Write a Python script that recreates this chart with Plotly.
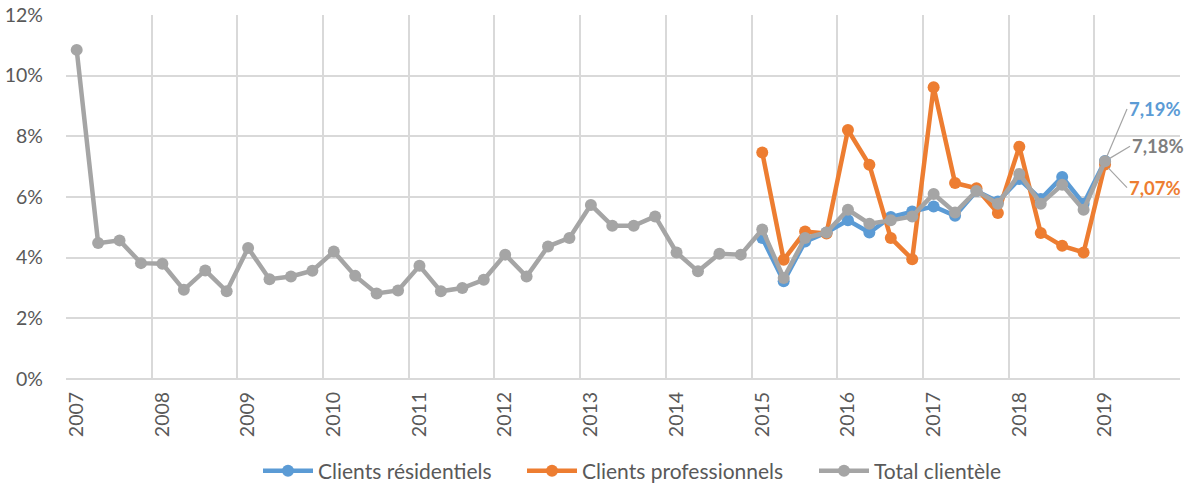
import plotly.graph_objects as go

years = ["2007", "2008", "2009", "2010", "2011", "2012", "2013",
         "2014", "2015", "2016", "2017", "2018", "2019"]

total = [10.85, 4.48, 4.57, 3.82, 3.80, 2.94, 3.58, 2.89, 4.32, 3.29, 3.38, 3.57,
         4.20, 3.40, 2.82, 2.92, 3.73, 2.89, 3.00, 3.27, 4.10, 3.38, 4.37, 4.65,
         5.74, 5.05, 5.05, 5.36, 4.17, 3.55, 4.13, 4.10, 4.93, 3.33, 4.65, 4.83,
         5.58, 5.12, 5.23, 5.36, 6.10, 5.49, 6.20, 5.78, 6.76, 5.78, 6.40, 5.58, 7.18]
residentiels = [4.65, 3.22, 4.53, 4.83, 5.23, 4.83, 5.34, 5.52, 5.69, 5.38, 6.20,
                5.85, 6.59, 5.93, 6.66, 5.78, 7.19]
professionnels = [7.47, 3.93, 4.86, 4.80, 8.21, 7.06, 4.65, 3.95, 9.62, 6.46, 6.29,
                  5.47, 7.66, 4.81, 4.39, 4.17, 7.07]

n_total = len(total)
x_total = list(range(n_total))
start_seg = n_total - len(residentiels)
x_seg = list(range(start_seg, n_total))
n_slots = 4 * len(years)  # quarterly slots on the axis (2019 year fully spanned)

BLUE = "#5B9BD5"
ORANGE = "#ED7D31"
GRAY = "#A5A5A5"
FONT = "Lato, 'Open Sans', sans-serif"
TXT = "#595959"
GRID = "#D9D9D9"
W, H = 1187, 485

def pct(v):
    return [a / 100 for a in v]

fig = go.Figure()
series = [
    ("Clients résidentiels", x_seg, residentiels, BLUE, "legend", 258),
    ("Clients professionnels", x_seg, professionnels, ORANGE, "legend2", 522),
    ("Total clientèle", x_total, total, GRAY, "legend3", 814),
]
for name, xs, ys, col, lg, _ in series:
    fig.add_trace(go.Scatter(
        x=xs, y=pct(ys), name=name, mode="lines+markers",
        line=dict(color=col, width=4.5),
        marker=dict(color=col, size=12),
        legend=lg,
    ))

label_cols = {"Clients résidentiels": BLUE, "Clients professionnels": ORANGE,
              "Total clientèle": "#7F7F7F"}
offsets = {"Clients résidentiels": (22, -52), "Total clientèle": (25, -15),
           "Clients professionnels": (22, 23)}
for name, xs, ys, col, _, _ in series:
    ax, ay = offsets[name]
    fig.add_annotation(
        x=xs[-1], y=ys[-1] / 100, xref="x", yref="y",
        text=f"{ys[-1]:.2f}".replace(".", ",") + "%",
        xanchor="left", yanchor="middle",
        showarrow=True, arrowhead=0, arrowwidth=1.2, arrowcolor="#A5A5A5",
        ax=ax, ay=ay, standoff=5,
        font=dict(family=FONT, size=18.5, color=label_cols[name], weight="bold"),
    )

legends = {}
for name, xs, ys, col, lg, px in series:
    legends[lg] = dict(orientation="h", x=px / W, xanchor="left",
                       xref="container", yref="container",
                       y=(H - 471) / H, yanchor="middle",
                       font=dict(size=21, color=TXT), itemwidth=50,
                       bgcolor="rgba(0,0,0,0)")

rng = [-0.5, n_slots - 0.5]
fig.update_layout(
    width=W, height=H,
    margin=dict(l=66, r=7, t=15, b=106, autoexpand=False),
    plot_bgcolor="white", paper_bgcolor="white",
    font=dict(family=FONT, color=TXT),
    showlegend=True,
    xaxis=dict(range=rng, tickmode="array",
               tickvals=[4 * i for i in range(len(years))], ticktext=years,
               tickangle=-90, showgrid=False, zeroline=False, showline=False,
               ticks="", ticklabelstandoff=8, automargin=False,
               tickfont=dict(size=19.5, color=TXT),
               minor=dict(tick0=-0.5, dtick=4, showgrid=True,
                          gridcolor=GRID, gridwidth=1.5, ticks="")),
    yaxis=dict(range=[0, 0.12], dtick=0.02, tickformat=".0%",
               showgrid=True, gridcolor=GRID, gridwidth=1.5,
               zeroline=True, zerolinecolor=GRID, zerolinewidth=1.5,
               ticks="", ticklabelstandoff=22, automargin=False,
               tickfont=dict(size=19.5, color=TXT)),
    **legends,
)

fig.write_html(
    "out.html",
    config={"displayModeBar": False},
    post_script="document.body.style.margin='0';document.body.style.overflow='hidden';",
)
